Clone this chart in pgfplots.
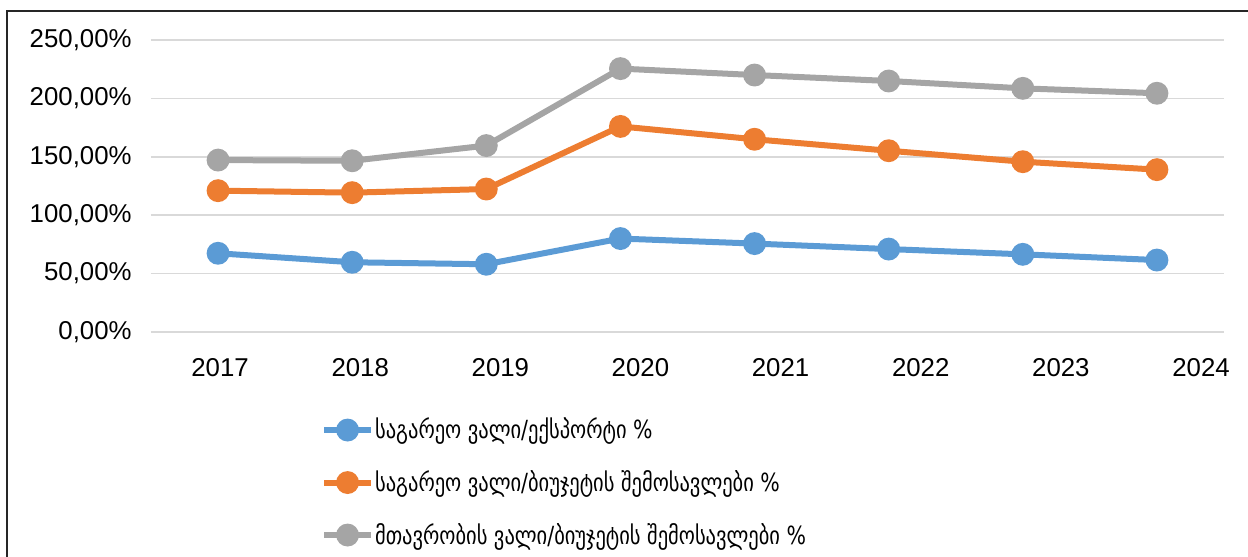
\documentclass[border=0pt]{standalone}
\usepackage{fontspec}
\setmainfont{Liberation Sans}
\newfontfamily\geo[FakeStretch=0.82]{DejaVu Sans}
\usepackage{pgfplots}
\usepackage{pgfplotstable}
\pgfplotsset{compat=1.18}
\definecolor{cblue}{HTML}{5B9BD5}
\definecolor{corange}{HTML}{ED7D31}
\definecolor{cgray}{HTML}{A5A5A5}
\definecolor{cgrid}{HTML}{D9D9D9}
\pgfplotstableread{
x blue orange gray
0 67.4 121.0 147.2
1 59.7 119.3 146.6
2 58.0 122.4 159.6
3 80.0 176.0 225.5
4 75.7 165.0 220.0
5 71.0 155.2 214.9
6 66.5 145.8 208.6
7 61.6 139.0 204.4
}\datatable
\begin{document}
\begin{tikzpicture}
\useasboundingbox (0,0) rectangle (624pt,278.5pt);
\draw[black!85, line width=0.6pt] (3.5pt,273pt) rectangle (640pt,-10pt);
\begin{axis}[
  at={(75.5pt,112.5pt)}, anchor=south west, scale only axis,
  width=536.5pt, height=146pt,
  xmin=-0.5, xmax=7.5, ymin=0, ymax=250,
  ytick={0,50,...,250},
  xtick={0.015,1.060,2.105,3.149,4.194,5.239,6.284,7.329},
  xticklabels={2017,2018,2019,2020,2021,2022,2023,2024},
  /pgf/number format/assume math mode=true,
  yticklabel={\pgfmathprintnumber[fixed,fixed zerofill,precision=2,use comma]{\tick}\%},
  ymajorgrids, grid style={cgrid, line width=0.75pt},
  axis line style={draw=none}, major tick style={draw=none},
  tick label style={font=\fontsize{12.9}{15}\selectfont},
  yticklabel style={anchor=east, inner sep=0pt, xshift=-9.5pt},
  xticklabel style={anchor=center, inner sep=0pt, yshift=-17.75pt},
  clip=false,
  legend cell align=left,
  legend style={at={(0.1585,-0.2459)}, anchor=north west, draw=none, fill=none,
    font=\geo\fontsize{12.5}{14}\selectfont, inner sep=0pt, outer sep=0pt,
    nodes={minimum height=26.25pt, inner sep=0pt, anchor=west},
    row sep=0pt, column sep=0.5pt},
  legend image code/.code={\draw[mark repeat=2,mark phase=2,#1] plot coordinates {(0pt,0pt) (11.75pt,0pt) (23.5pt,0pt)};},
  every axis plot/.append style={line width=3pt, mark=*, mark size=4.2pt, mark options={line width=0pt}},
]
\addplot[cblue, mark options={fill=cblue, draw=cblue}] table[x=x,y=blue] {\datatable};
\addplot[corange, mark options={fill=corange, draw=corange}] table[x=x,y=orange] {\datatable};
\addplot[cgray, mark options={fill=cgray, draw=cgray}] table[x=x,y=gray] {\datatable};
\legend{საგარეო ვალი/ექსპორტი \%, საგარეო ვალი/ბიუჯეტის შემოსავლები \%, მთავრობის ვალი/ბიუჯეტის შემოსავლები \%}
\end{axis}
\end{tikzpicture}
\end{document}
